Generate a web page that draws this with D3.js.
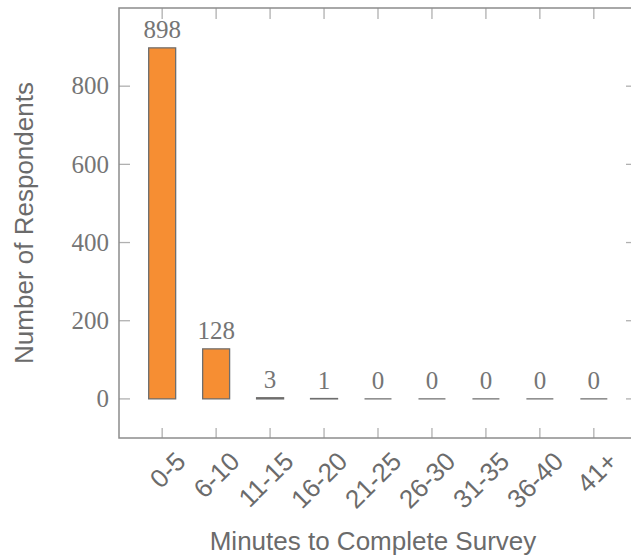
<!DOCTYPE html>
<html>
<head>
<meta charset="utf-8">
<script src="https://cdn.jsdelivr.net/npm/d3@7"></script>
<style>
  body { margin: 0; background: #fff; }
  svg { display: block; }
</style>
</head>
<body>
<svg id="chart"></svg>
<script>
// survey timing buckets and their respondent counts
var categories = ["0-5", "6-10", "11-15", "16-20", "21-25", "26-30", "31-35", "36-40", "41+"];
var respondents = [898, 128, 3, 1, 0, 0, 0, 0, 0];
var yTicks = [0, 200, 400, 600, 800];

var width = 631, height = 559;
var plotLeft = 119, plotRight = 637, plotTop = 8, plotBottom = 438;

var svg = d3.select("#chart")
    .attr("width", width)
    .attr("height", height);

// index-based linear x so the margins at both ends match the reference
var x = d3.scaleLinear().domain([-0.8, categories.length - 0.2]).range([plotLeft, plotRight]);
var y = d3.scaleLinear().domain([-100, 1000]).range([plotBottom, plotTop]);
var barW = x(0.25) - x(-0.25);

var serif = "'Liberation Serif', 'DejaVu Serif', serif";
var sans = "'Liberation Sans', Arial, sans-serif";
var textColor = "#6b6b6b";

// tick marks, drawn inward on all four sides
var ticks = svg.append("g")
    .attr("stroke", "#b0b0b0")
    .attr("stroke-width", 1.3);

categories.forEach(function(c, i) {
  ticks.append("line").attr("x1", x(i)).attr("x2", x(i)).attr("y1", plotBottom).attr("y2", plotBottom - 10);
  ticks.append("line").attr("x1", x(i)).attr("x2", x(i)).attr("y1", plotTop).attr("y2", plotTop + 11);
});
yTicks.forEach(function(t) {
  ticks.append("line").attr("x1", plotLeft).attr("x2", plotLeft + 11).attr("y1", y(t)).attr("y2", y(t));
  ticks.append("line").attr("x1", plotRight).attr("x2", plotRight - 11).attr("y1", y(t)).attr("y2", y(t));
});

// frame
svg.append("rect")
    .attr("x", plotLeft)
    .attr("y", plotTop)
    .attr("width", plotRight - plotLeft)
    .attr("height", plotBottom - plotTop)
    .attr("fill", "none")
    .attr("stroke", "#8c8c8c")
    .attr("stroke-width", 1.5);

// bars as closed paths so zero-height bars still show a stroke line
svg.selectAll(".bar")
  .data(respondents)
  .enter().append("path")
    .attr("class", "bar")
    .attr("d", function(d, i) {
      var x0 = x(i) - barW / 2, x1 = x(i) + barW / 2;
      return "M" + x0 + "," + y(0) + "V" + y(d) + "H" + x1 + "V" + y(0) + "Z";
    })
    .attr("fill", "#f68e33")
    .attr("stroke", "#6e6e6e")
    .attr("stroke-width", 1.3);

// value labels over the bars
svg.selectAll(".val")
  .data(respondents)
  .enter().append("text")
    .attr("class", "val")
    .attr("x", function(d, i) { return x(i); })
    .attr("y", function(d) { return y(d) - 10; })
    .attr("text-anchor", "middle")
    .attr("font-family", serif)
    .attr("font-size", 25)
    .attr("fill", "#757575")
    .text(function(d) { return d; });

// y tick labels
svg.selectAll(".ylab")
  .data(yTicks)
  .enter().append("text")
    .attr("class", "ylab")
    .attr("x", plotLeft - 10)
    .attr("y", function(d) { return y(d); })
    .attr("dy", "0.33em")
    .attr("text-anchor", "end")
    .attr("font-family", serif)
    .attr("font-size", 25)
    .attr("fill", "#757575")
    .text(function(d) { return d; });

// x tick labels, rotated 45 degrees
svg.selectAll(".xlab")
  .data(categories)
  .enter().append("text")
    .attr("class", "xlab")
    .attr("transform", function(d, i) { return "translate(" + (x(i) + 12) + "," + 450 + ") rotate(-45)"; })
    .attr("dy", "0.71em")
    .attr("text-anchor", "end")
    .attr("font-family", sans)
    .attr("font-size", 26)
    .attr("fill", textColor)
    .text(function(d) { return d; });

// axis titles
svg.append("text")
    .attr("x", (plotLeft + plotRight) / 2 - 5)
    .attr("y", 550)
    .attr("text-anchor", "middle")
    .attr("font-family", sans)
    .attr("font-size", 26)
    .attr("fill", textColor)
    .text("Minutes to Complete Survey");

svg.append("text")
    .attr("transform", "translate(33," + (plotTop + plotBottom) / 2 + ") rotate(-90)")
    .attr("text-anchor", "middle")
    .attr("font-family", sans)
    .attr("font-size", 26)
    .attr("fill", textColor)
    .text("Number of Respondents");
</script>
</body>
</html>
